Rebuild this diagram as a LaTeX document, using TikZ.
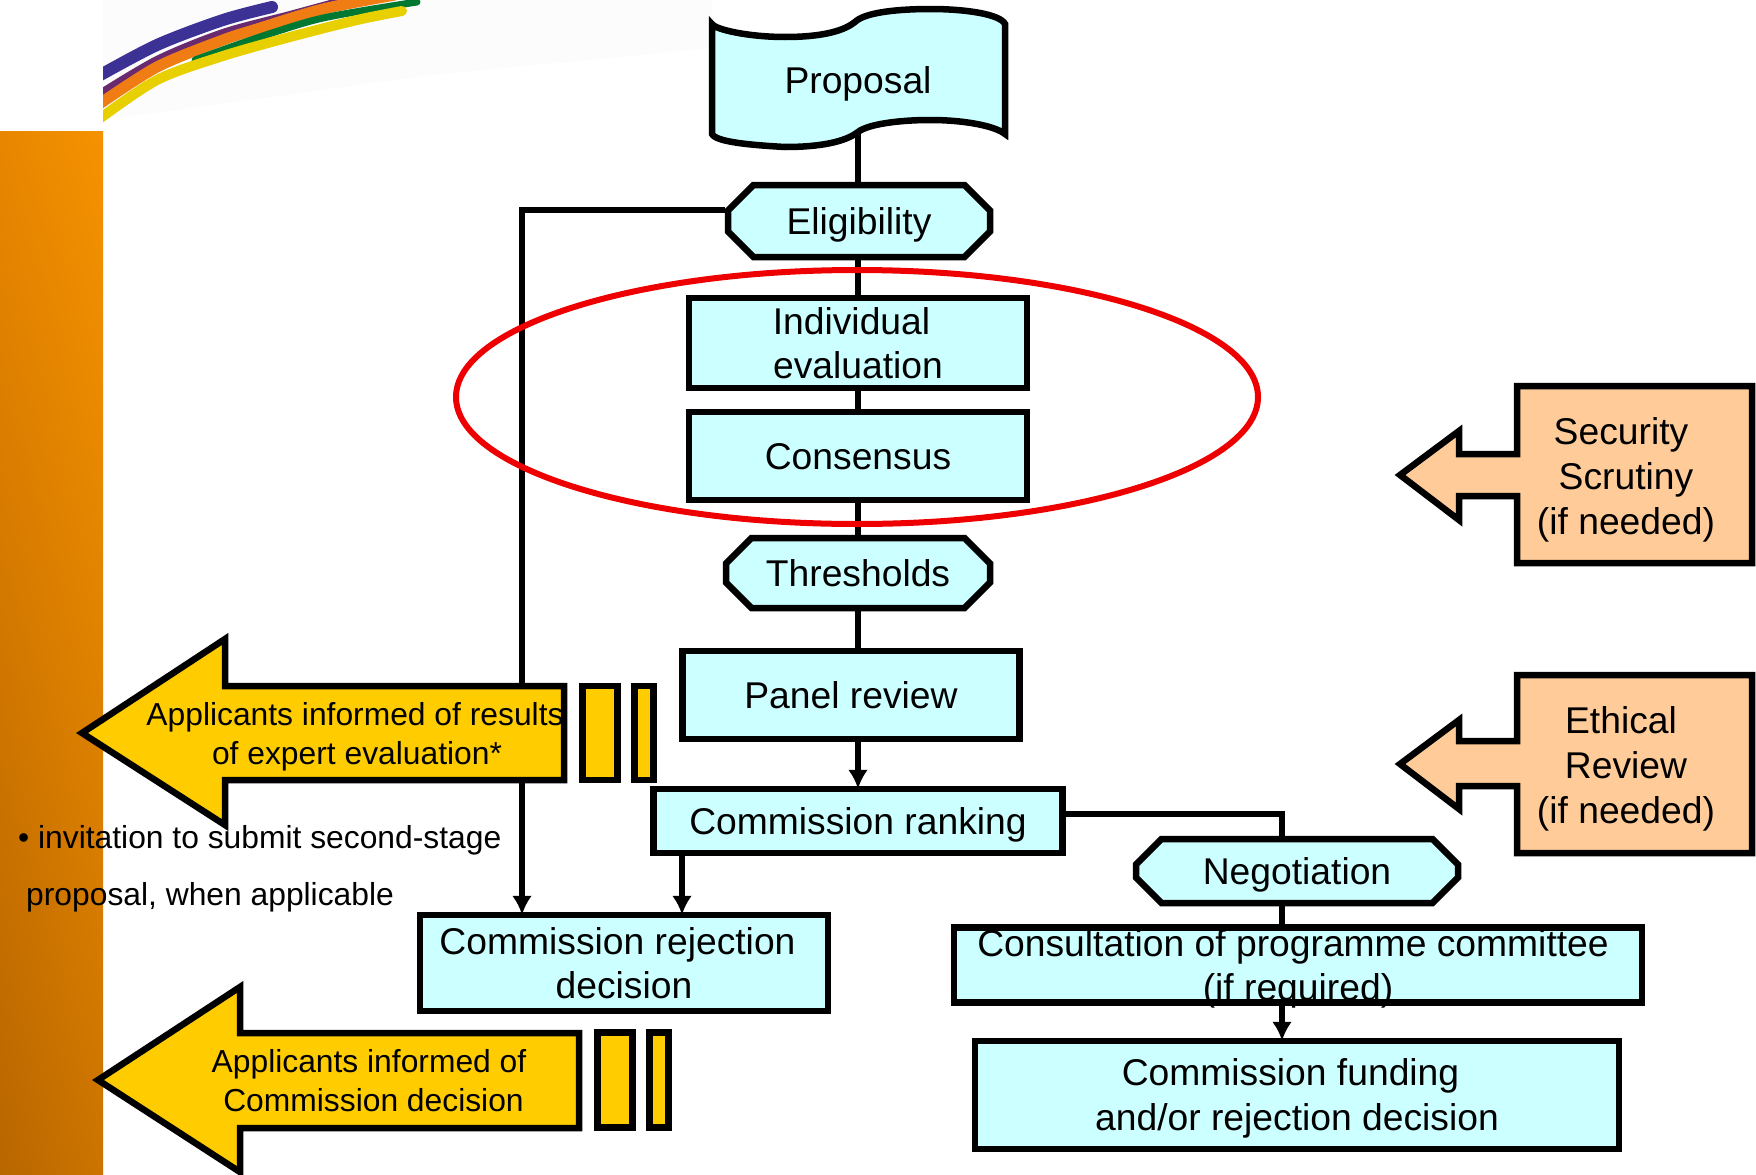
\documentclass[tikz,border=0pt]{standalone}
\usepackage{fontspec}
\setmainfont{Liberation Sans}
\usetikzlibrary{arrows.meta,shapes.misc,shadings,calc}
\definecolor{boxcyan}{HTML}{CCFFFF}
\definecolor{noteyellow}{HTML}{FFCC00}
\definecolor{notepeach}{HTML}{FFCC99}
\definecolor{ringred}{HTML}{EE0000}
\definecolor{bandul}{HTML}{E88600}
\definecolor{bandur}{HTML}{F59200}
\definecolor{bandll}{HTML}{B86600}
\definecolor{bandlr}{HTML}{CC7400}
\definecolor{swblue}{HTML}{3C3296}
\definecolor{swplum}{HTML}{6A2A70}
\definecolor{sworange}{HTML}{F07D14}
\definecolor{swyellow}{HTML}{E8CF00}
\definecolor{swgreen}{HTML}{007832}
\definecolor{swwash}{HTML}{FCFCFC}
\pgfdeclarelayer{deco}
\pgfdeclarelayer{links}
\pgfsetlayers{deco,links,main}
\newcommand{\bigfont}[1]{\fontsize{37.25}{#1}\selectfont}
\newcommand{\smallfont}[1]{\fontsize{31.8}{#1}\selectfont}
\tikzset{
  x=1pt,y=-1pt,
  bar/.style={draw=black,line width=6.5pt,fill=noteyellow},
  arrowshape/.style={draw=black,line width=6.5pt,miter limit=10,line join=miter},
  flowbox/.style={rectangle,draw=black,line width=6.5pt,fill=boxcyan,align=center,inner sep=0pt,font=\bigfont{44}},
  octbox/.style={chamfered rectangle,draw=black,line width=6.5pt,fill=boxcyan,align=center,inner sep=0pt,
     chamfered rectangle xsep=19pt,chamfered rectangle ysep=12pt,font=\bigfont{44}},
  oneline/.style={text height=27pt,text depth=0pt},
  link/.style={draw=black,line width=5.5pt},
  tolink/.style={link,shorten >=-3pt,-{Latex[length=19pt,width=20pt]}},
  notetext/.style={align=center,inner sep=0pt,font=\smallfont{39}},
  peachtext/.style={align=center,inner sep=0pt,font=\bigfont{45}},
  swoosh/.style={line width=#1,smooth,line cap=round},
}
\begin{document}
\begin{tikzpicture}
\useasboundingbox (0,0) rectangle (1756,1175);
\begin{pgfonlayer}{deco}
  \fill[white] (0,0) rectangle (1756,1175);
  \shade[upper left=bandul,upper right=bandur,lower left=bandll,lower right=bandlr] (0,131) rectangle (103,1175);
  \fill[swwash] (103,120) -- (430,75) -- (712,48) -- (712,0) -- (103,0) -- cycle;
  \begin{scope}
    \clip (103,0) rectangle (480,125);
    \draw[swoosh=12pt,swblue] plot coordinates {(95,78) (157,45) (223,20) (272,7)};
    \draw[swoosh=8pt,swplum] plot coordinates {(95,97) (157,60) (223,33) (290,15) (345,0)};
    \draw[swoosh=11pt,sworange] plot coordinates {(95,107) (157,67) (223,40) (257,29) (323,9) (395,-5)};
    \draw[swoosh=7pt,swgreen] plot coordinates {(195,60) (257,38) (323,18) (417,2)};
    \draw[swoosh=10pt,swyellow] plot coordinates {(95,122) (157,80) (223,56) (290,37) (357,20) (402,11)};
  \end{scope}
\end{pgfonlayer}

% flow boxes
\path[draw=black,line width=6.5pt,fill=boxcyan,miter limit=10]
  (712,24) .. controls (716,30) and (750,37) .. (785,37)
  .. controls (825,37) and (845,30) .. (855,22)
  .. controls (865,12) and (900,9) .. (930,9)
  .. controls (965,9) and (1000,14) .. (1005,24)
  -- (1005,134)
  .. controls (995,126) and (965,120) .. (930,120)
  .. controls (900,120) and (868,124) .. (858,132)
  .. controls (845,142) and (820,147) .. (785,147)
  .. controls (750,145) and (716,142) .. (712,134) -- cycle;
\node[inner sep=0pt,font=\bigfont{44},oneline] (proposal) at (858,80) {Proposal};
\coordinate (proposalfoot) at (858,134);

\node[octbox,oneline,minimum width=262pt,minimum height=72pt] (elig) at (859,221) {Eligibility};
\node[flowbox,minimum width=338pt,minimum height=90pt] (indiv) at (858,343) {Individual\hspace*{13pt}\\evaluation};
\node[flowbox,oneline,minimum width=338pt,minimum height=88pt] (cons) at (858,456) {Consensus};
\node[octbox,oneline,minimum width=264pt,minimum height=70pt] (thresh) at (858,573) {Thresholds};
\node[flowbox,oneline,minimum width=337pt,minimum height=88pt] (panel) at (851,695) {Panel review};
\node[flowbox,oneline,minimum width=409pt,minimum height=64pt] (rank) at (858,821) {Commission ranking};
\node[flowbox,minimum width=408pt,minimum height=96pt] (reject) at (624,963) {Commission rejection\hspace*{13pt}\\decision};
\node[octbox,oneline,minimum width=322pt,minimum height=64pt] (nego) at (1297,871) {Negotiation};
\node[rectangle,fill=boxcyan,inner sep=0pt,minimum width=688pt,minimum height=75pt] (consult) at (1298,965) {};
\node[align=center,inner sep=0pt,font=\bigfont{44.4}] (consulttext) at (1298,969) {Consultation of programme committee\hspace*{10pt}\\(if required)};
\draw[black,line width=6.5pt] (consult.north west) rectangle (consult.south east);
\node[flowbox,minimum width=644pt,minimum height=108pt,font=\bigfont{45}] (fund) at (1297,1095) {\rule{0pt}{34pt}Commission funding\hspace*{13pt}\\and/or rejection decision};

% connectors
\coordinate (trunk) at (858,250);
\coordinate (leftrail) at (522,210);
\coordinate (rejectdrop) at (682,900);
\coordinate (rankout) at (1282,814);
\begin{pgfonlayer}{links}
  \draw[link] (proposalfoot) -- (elig.north -| trunk);
  \draw[link] (elig.south -| trunk) -- (indiv.north -| trunk);
  \draw[link] (indiv.south -| trunk) -- (cons.north -| trunk);
  \draw[link] (cons.south -| trunk) -- (thresh.north -| trunk);
  \draw[link] (thresh.south -| trunk) -- (panel.north -| trunk);
  \draw[tolink] (panel.south -| trunk) -- (rank.north -| trunk);
  \draw[tolink] (elig.west |- leftrail) -- (leftrail) -- (leftrail |- reject.north);
  \draw[tolink] (rank.south -| rejectdrop) -- (reject.north -| rejectdrop);
  \draw[link] (rank.east |- rankout) -- (rankout) -- (rankout |- nego.north);
  \draw[link] (rankout |- nego.south) -- (rankout |- consult.north);
  \draw[tolink] (rankout |- consult.south) -- (rankout |- fund.north);
\end{pgfonlayer}

% yellow arrows
\draw[arrowshape,fill=noteyellow] (82,733) -- (225,639) -- (225,686) -- (564,686) -- (564,780) -- (225,780) -- (225,825) -- cycle;
\node[bar,minimum width=35pt,minimum height=94pt,inner sep=0pt] (b1a) at (600,733) {};
\node[bar,minimum width=19pt,minimum height=94pt,inner sep=0pt] (b1b) at (644,733) {};
\node[notetext] (inform1) at (355,737) {Applicants informed of results\\\hspace*{4pt}of expert evaluation*};
\draw[arrowshape,fill=noteyellow] (98,1080) -- (240,987) -- (240,1033) -- (579,1033) -- (579,1128) -- (240,1128) -- (240,1172) -- cycle;
\node[bar,minimum width=35pt,minimum height=95pt,inner sep=0pt] (b2a) at (615,1080) {};
\node[bar,minimum width=19pt,minimum height=95pt,inner sep=0pt] (b2b) at (659,1080) {};
\node[notetext] (inform2) at (373.5,1081) {Applicants informed of\hspace*{9pt}\\Commission decision};

% peach arrows
\draw[arrowshape,fill=notepeach] (1517,454) -- (1459,454) -- (1459,431) -- (1400,475) -- (1459,520) -- (1459,496) -- (1517,496) -- (1517,563) -- (1752,563) -- (1752,386) -- (1517,386) -- cycle;
\node[peachtext] (security) at (1626,479.5) {Security\hspace*{10pt}\\Scrutiny\\(if needed)};
\draw[arrowshape,fill=notepeach] (1517,741) -- (1459,741) -- (1459,720) -- (1400,764) -- (1459,809) -- (1459,786) -- (1517,786) -- (1517,853) -- (1752,853) -- (1752,675) -- (1517,675) -- cycle;
\node[peachtext] (ethical) at (1626,768.5) {Ethical\hspace*{10pt}\\Review\\(if needed)};

% remark
\node[align=left,inner sep=0pt,anchor=base west,font=\smallfont{57}] (remark) at (18,905) {• invitation to submit second-stage\\\hspace*{8pt}proposal, when applicable};

% ring
\draw[ringred,line width=6pt] (857,397) ellipse [x radius=401pt,y radius=127pt];
\end{tikzpicture}
\end{document}
